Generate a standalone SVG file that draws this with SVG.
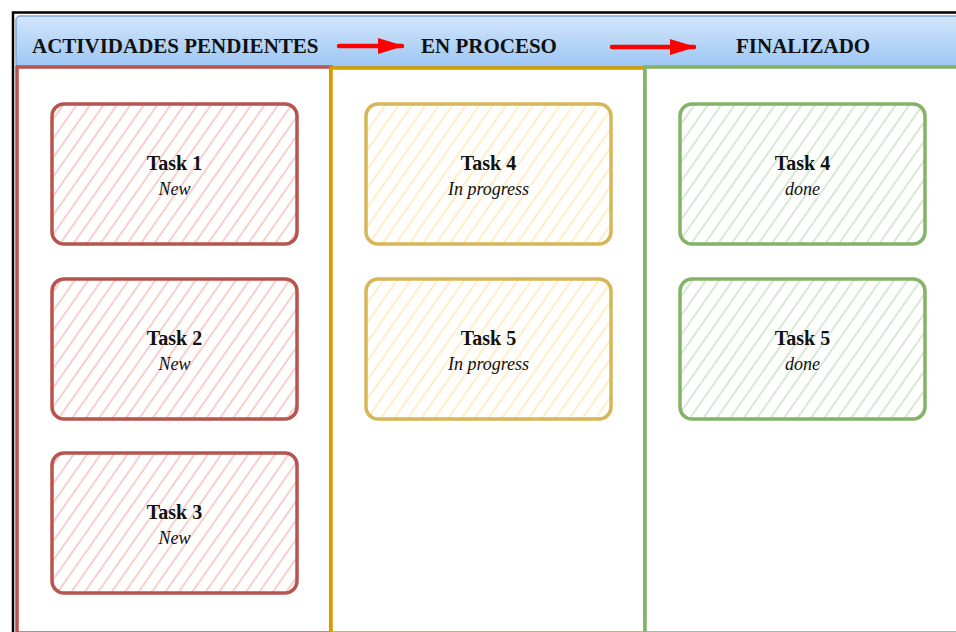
<svg xmlns="http://www.w3.org/2000/svg" width="956" height="632" viewBox="0 0 956 632">
<style>
.hdr{font-family:"Liberation Serif",serif;font-weight:bold;font-size:21px;fill:#111}
.t{font-family:"Liberation Serif",serif;font-weight:bold;font-size:20px;fill:#111;text-anchor:middle}
.s{font-family:"Liberation Serif",serif;font-style:italic;font-size:18px;fill:#111;text-anchor:middle}
.card{stroke-width:3.5}
.red{stroke:#b85450;fill:url(#hr)}
.org{stroke:#d6b656;fill:url(#ho)}
.grn{stroke:#82b366;fill:url(#hg)}
.lane{fill:#fff;stroke-width:3.5}
</style>
<defs>
<linearGradient id="hb" x1="0" y1="0" x2="0" y2="1">
<stop offset="0" stop-color="#d4e6fb"/>
<stop offset="1" stop-color="#9cc6f3"/>
</linearGradient>
<pattern id="hr" width="11" height="11" patternUnits="userSpaceOnUse" patternTransform="rotate(35)">
<rect width="11" height="11" fill="#fff"/><line x1="2" y1="0" x2="2" y2="11" stroke="#f5c3c1" stroke-width="1.6"/>
</pattern>
<pattern id="ho" width="11" height="11" patternUnits="userSpaceOnUse" patternTransform="rotate(35)">
<rect width="11" height="11" fill="#fff"/><line x1="2" y1="0" x2="2" y2="11" stroke="#ffeab8" stroke-width="1.6"/>
</pattern>
<pattern id="hg" width="11" height="11" patternUnits="userSpaceOnUse" patternTransform="rotate(35)">
<rect width="11" height="11" fill="#fff"/><line x1="2" y1="0" x2="2" y2="11" stroke="#cde3cb" stroke-width="1.6"/>
</pattern>
<marker id="ah" markerWidth="26" markerHeight="16" refX="24" refY="8" orient="auto" markerUnits="userSpaceOnUse" viewBox="0 0 26 16">
<path d="M0,0 L26,8 L0,16 Z" fill="#ff0000"/>
</marker>
</defs>
<rect width="956" height="632" fill="#fff"/>
<g id="frame">
<path d="M13,632 L13,12.5 L956,12.5" fill="none" stroke="#000" stroke-width="2.5"/>
</g>
<g id="header">
<rect x="16" y="16" width="945" height="51" rx="4" fill="url(#hb)" stroke="#7ea6d8" stroke-width="1.5"/>
<text class="hdr" x="32" y="53">ACTIVIDADES PENDIENTES</text>
<text class="hdr" x="421" y="53">EN PROCESO</text>
<text class="hdr" x="736" y="53">FINALIZADO</text>
</g>
<g id="lane-pendientes">
<rect class="lane" x="17" y="67" width="314" height="566" stroke="#b85450"/>
</g>
<g id="lane-proceso">
<rect class="lane" x="331" y="68" width="314" height="565" stroke="#d79b00"/>
</g>
<g id="lane-finalizado">
<rect class="lane" x="645" y="67" width="320" height="566" stroke="#82b366"/>
</g>
<g id="task1"><rect class="card red" x="52" y="104" width="245" height="140" rx="12"/><text class="t" x="174.5" y="170">Task 1</text><text class="s" x="174.5" y="195">New</text></g>
<g id="task2"><rect class="card red" x="52" y="279" width="245" height="140" rx="12"/><text class="t" x="174.5" y="345">Task 2</text><text class="s" x="174.5" y="370">New</text></g>
<g id="task3"><rect class="card red" x="52" y="453" width="245" height="140" rx="12"/><text class="t" x="174.5" y="519">Task 3</text><text class="s" x="174.5" y="544">New</text></g>
<g id="task4-proceso"><rect class="card org" x="366" y="104" width="245" height="140" rx="12"/><text class="t" x="488.5" y="170">Task 4</text><text class="s" x="488.5" y="195">In progress</text></g>
<g id="task5-proceso"><rect class="card org" x="366" y="279" width="245" height="140" rx="12"/><text class="t" x="488.5" y="345">Task 5</text><text class="s" x="488.5" y="370">In progress</text></g>
<g id="task4-done"><rect class="card grn" x="680" y="104" width="245" height="140" rx="12"/><text class="t" x="802.5" y="170">Task 4</text><text class="s" x="802.5" y="195">done</text></g>
<g id="task5-done"><rect class="card grn" x="680" y="279" width="245" height="140" rx="12"/><text class="t" x="802.5" y="345">Task 5</text><text class="s" x="802.5" y="370">done</text></g>
<g id="connectors">
<line x1="339" y1="46" x2="402" y2="46" stroke="#ff0000" stroke-width="4.5" marker-end="url(#ah)" stroke-linecap="round"/>
<line x1="612" y1="47" x2="694" y2="47" stroke="#ff0000" stroke-width="4.5" marker-end="url(#ah)" stroke-linecap="round"/>
</g>
</svg>
